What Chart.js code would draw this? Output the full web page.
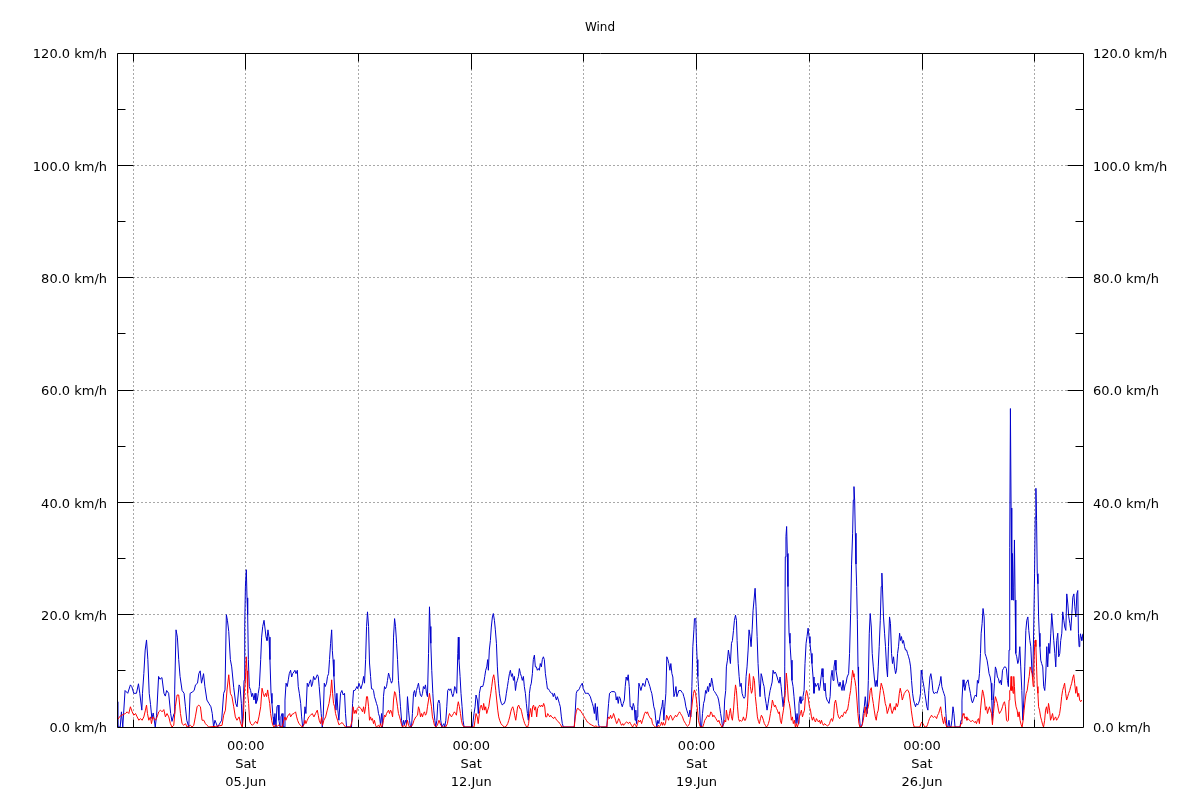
<!DOCTYPE html>
<html>
<head>
<meta charset="utf-8">
<script src="https://cdn.jsdelivr.net/npm/chart.js@4.4.1/dist/chart.umd.min.js"></script>
<style>
html,body{margin:0;padding:0;background:#ffffff;}
#wrap{width:1200px;height:800px;}
</style>
</head>
<body>
<div id="wrap"><canvas id="c" width="1200" height="800"></canvas></div>
<script>
// ---------- chart text ----------
const chartTitle = 'Wind';
const unitLabel = 'km/h';

// ---------- x axis: hours since 01.Jun 00:00 ----------
const xMinHour = 0;
const xMaxHour = 720;
const gridHours = [12, 96, 180, 264, 348, 432, 516, 600, 684];
const labelHours = [96, 264, 432, 600];
const labelTimes = ['00:00', '00:00', '00:00', '00:00'];
const labelWeekdays = ['Sat', 'Sat', 'Sat', 'Sat'];
const labelDates = ['05.Jun', '12.Jun', '19.Jun', '26.Jun'];

// ---------- y axis ----------
const yMin = 0;
const yMax = 120;
const yLabelStep = 20;
const yMinorStep = 10;

// ---------- series: [hour, km/h] readings ----------
const gustReadings = [
[0,4.5],[0.6,0],[2.4,0],[3.3,2.7],[4.3,0],[6,6.5],[8,6],[10,7.5],[11,7.2],[12.5,6],[14.5,6],[16,7.7],[17,6],[18.5,3],[19,6],[20,9.5],[21,13.7],[22,15.5],[23,12],[24,6],[25,4],[26,1.5],[27,2.5],[28.5,0],[29.5,2],[31,9],[32,8.5],[33.5,8.8],[35,6],[36,5.5],[37,6.5],[38.5,6],[40,2.4],[41,1],[42.5,2.4],[43,6.6],[44,17.3],[45,16],[46,12],[47,9],[48.5,6.5],[50,6],[51,3.6],[52,1.2],[53.5,0],[54.5,6],[56,6.2],[57.5,6.5],[58.5,7.5],[60,7.8],[61,9.5],[62,10],[63,7.8],[64.5,9.5],[65.5,7.2],[67,4.8],[68.5,4.2],[70,3.6],[71,2.4],[72,0],[73,1.2],[75,0],[78,1.2],[79.5,6],[80.5,6.6],[81.5,20],[82.3,19],[83.3,17],[84.5,12],[85.5,10.7],[87,7],[88.5,4.2],[89.5,3.6],
[91,7.5],[91.7,7.2],[92.7,4.2],[93.4,0],[94.2,4.8],[94.7,8.3],[95.2,17.9],[95.7,25],[96.4,28],[96.9,23],[97.4,20],[97.9,12],[98.6,7.2],[99.6,6.5],[100.4,5.4],[101.1,6],[102.1,4.8],[102.9,6],[103.6,4.2],[104.6,4.8],[105.3,6],[106.1,7.2],[107.1,12],[107.8,16],[108.6,17.9],[109.6,19],[110.3,19],[111.1,16],[111.8,15.4],[112.5,17.3],[113.3,16],[114,12],[114.8,6],[115.5,4.2],[116.3,1.8],[117,0.4],[117.7,2.4],[118.5,0],[119.2,3.6],[120,3.9],[120.7,1.2],[121.5,0],[122.2,1.8],[123,2.4],[123.7,0],[124.5,0],[125.2,4.8],[126,7.8],[126.9,7.2],[127.7,8.4],[128.4,9.5],[129.4,10.1],[130.2,8.9],[130.9,9.5],[131.9,9.8],[132.6,10.1],[133.4,9.5],[134.4,10.1],[135.1,7.2],[135.9,6],[136.9,4.2],[137.6,1.8],[138.4,0],[139.3,0.6],[140.1,3.6],[140.8,2.4],[141.8,7.8],[142.6,7.2],[143.3,7.8],[144.3,8.4],[145,7.2],[145.8,7.8],[146.5,9],[147.5,8.4],[148.3,8.7],[149.3,9.3],[150,9],[150.7,7.2],[151.5,4.8],[152.2,2.4],[153,0],[153.7,1.8],[154.5,7.8],[155.2,7.2],[156.2,7.8],[156.9,9],[157.7,9.5],[158.4,12],[159.2,14.9],[160,17.3],[160.5,13.6],[161,12],[161.7,9],[162.4,6],[163.2,3],[163.9,6],[164.6,3],[165.4,1.2],[166.6,6],[167.6,6.5],[168.6,5.7],[169.6,6],[170.3,2.4],[171.1,0],[174.8,0],[175.6,4.2],[176.3,6.5],[177.3,6.5],[178,6.8],[178.8,7.2],[179.5,6.8],[180.3,7.8],
[181.8,6.8],[183,7.8],[183.8,9],[184.5,7.8],[185.3,12],[186,17.9],[186.7,20.5],[187.5,17.9],[188.2,11.4],[189,9],[189.7,6.8],[190.4,6.8],[191.2,6.5],[191.9,5.4],[192.7,4.8],[193.4,4.2],[194.2,3.6],[194.9,2.4],[195.7,1.8],[196.4,0.4],[197.2,2.4],[197.9,0],[198.6,5.4],[199.4,7.2],[200.1,6.8],[200.9,7.2],[201.6,8.3],[202.4,9.6],[203.1,9],[203.9,8.3],[204.6,7.8],[205.4,8.3],[206.1,16],[206.9,19.3],[207.6,17.9],[208.4,14.9],[209.1,12],[209.8,8.3],[210.6,6],[211.3,3.6],[212.1,1.2],[212.8,0],[213.6,1.2],[214.3,0.4],[215.1,1.2],[215.8,0.6],[216.5,5.4],[217.3,3],[218,1.2],[218.8,0],[219.5,0],[220.2,2.4],[221,6],[221.8,6.5],[222.5,5.4],[223.2,6.5],[224,7.2],[224.7,7.8],[225.5,6.5],[226.2,5.6],[227,5.4],[227.7,6],[228.4,7.2],[229.2,6.8],[229.9,7.5],[230.7,6],[231.4,5.4],[232.2,13.1],[232.9,21.4],[233.4,17.9],[233.9,14.9],[234.6,10.1],[235.4,6],[236.1,3],[236.9,1.2],[237.6,0],[238.4,1.2],[239.1,4.2],[239.9,4.8],[240.6,4.2],[241.3,1.2],[242.1,0],[243.6,0.6],[244.3,0],[245.1,1.2],[245.8,3.6],[246.5,6.5],[247.3,6.8],[248,6.5],[248.8,6.8],[249.5,6],[250.3,5.4],[251,6],[251.7,7.2],[252.5,6.8],[253.2,6],[254,13.1],[254.4,16],[254.9,12],[255.7,9],[256.4,6],[257.2,3.6],[257.9,1.2],[258.7,0],[264.9,0],[266.1,2.4],[266.9,3.6],[267.6,5.7],[268.6,4.8],[269.3,2.4],[270.1,6],[271.1,7.2],
[272.6,7.2],[273.3,7.8],[274.1,9],[274.8,10.1],[275.6,10.7],[276.3,12],[276.8,10.1],[277.5,13.7],[278.3,15.4],[279,17.8],[279.8,19.6],[280.5,20.2],[281.3,19],[282,17.3],[282.8,14.9],[283.5,10.7],[284.3,7.8],[285,6],[285.8,4.8],[286.5,4.2],[287.3,3.9],[288,4.2],[288.7,4.2],[289.5,4.8],[290.2,6],[291,7.2],[291.7,8.3],[292.5,9.5],[293.2,10.1],[294,9],[294.7,9.5],[295.5,8.3],[296.2,9],[297,6.5],[297.7,7.8],[298.4,8.3],[299.2,9],[299.9,10.4],[300.7,9.5],[301.4,9],[302.1,8.3],[302.9,9],[303.6,7.2],[304.4,6],[305.1,4.2],[305.9,2.4],[306.6,1.2],[307.4,6],[308.1,7.2],[308.8,7.8],[309.6,9.5],[310.3,12],[311.1,12.8],[311.8,10.7],[312.6,10.7],[313.3,10.1],[314.1,10.4],[314.8,10.1],[315.5,11.3],[316.3,10.7],[317,12],[317.8,12.5],[318.5,12],[319.3,9.5],[320,8.3],[320.8,6.8],[321.5,6.8],[322.3,6.5],[323,6.2],[323.8,6],[324.5,6],[325.2,5.4],[326,6],[326.7,5.4],[327.5,4.8],[328.2,5.4],[329,4.8],[329.7,4.2],[330.4,3.6],[331.2,1.8],[331.9,0.6],[332.7,0],[340.8,0],[341.6,3],[342.3,6],[343.1,6.5],[343.8,6.5],[344.6,6.8],[345.3,7.2],[346,7.5],[346.8,7.8],[347.5,6.8],[348.3,6.5],[349,6],[349.8,6],[351.3,6],[352,5.7],[352.8,5.4],[353.5,4.8],[354.3,4.2],[355,3.6],[355.8,2.4],[356.5,4.2],[357.3,1.2],[358,3.6],[358.8,0.6],[359.5,0],
[365.1,0],[365.6,1.8],[366.4,4.2],[367.1,6],[368.6,6.3],[370.8,6.3],[371.6,6],[372.1,4.8],[372.8,5.4],[373.6,4.2],[374.3,5.4],[375.1,5.1],[375.8,4.2],[376.6,3.6],[377.3,4.2],[378.1,4.8],[378.8,7.2],[379.5,8.9],[380.3,8.3],[381,9.3],[381.8,7.2],[382.5,3.6],[383.3,3.6],[384,3],[384.8,4.2],[385.5,3.6],[386.2,1.2],[386.7,3],[387.2,0.6],[387.7,1.8],[388.2,3.6],[389,7.8],[389.7,7.2],[390.5,6.5],[391.2,7.2],[392,7.8],[392.7,7.5],[393.4,7.2],[394.2,8.3],[394.9,8.7],[395.7,8.3],[396.4,7.8],[397.2,7.2],[397.9,6.5],[398.6,6],[399.4,4.8],[400.1,3.6],[400.9,3],[401.6,1.2],[402.4,0],[403.1,1.2],[403.9,0.6],[404.6,1.8],[405.4,3],[406.1,3.6],[406.8,4.8],[407.6,1.2],[408.3,3.6],[409.1,6],[409.8,12.5],[410.6,12],[411.3,11.3],[412.1,10.1],[412.8,11.3],[413.6,9.5],[414.3,8.9],[415.1,5.4],[415.8,6],[416.6,7.2],[417.3,5.4],[418.1,6],[418.8,6.5],[420.3,6.5],[421,6.2],[421.8,6],[422.5,5.4],[423.2,4.8],[424,3.6],[424.7,3],[425.5,2.4],[426.2,1.8],[427,3],[427.7,1.8],[428.5,7.2],[429.2,14.3],[430,17.3],[430.4,19.3],[431.4,19.3],[431.9,14.9],[432.4,12],[432.9,9],[433.4,7.2],[434.2,3.6],[434.9,0],[435.7,0],[436.4,2.4],[437.2,4.2],[437.9,4.8],[438.7,6.5],[439.4,6],[440.2,7.2],[440.9,6.3],[441.7,7.8],[442.4,7.2],[443.2,8.7],[443.9,7.8],[444.7,6.5],[445.4,6.3],[446.2,6],[446.9,5.7],[447.7,5.4],[448.4,4.8],[449.2,3.6],[449.9,2.4],[450.7,1.2],[451.4,0],[452.2,0.6],[452.9,4.8],[453.7,6.5],
[454.2,10.7],[455,11.9],[455.7,13.7],[456.5,12.5],[457.2,11.3],[458,14.9],[458.7,15.4],[459.5,17.2],[460.2,19],[461,19.9],[461.7,19],[462.2,15.4],[463,11.3],[463.7,9],[464.4,7.2],[465.2,7.8],[465.9,6],[466.7,5.4],[467.4,5.1],[468.2,5.4],[468.9,9],[469.6,10.7],[470.4,13.7],[471.1,17.3],[471.9,16.1],[472.6,14.3],[473.4,17.3],[474.1,20.8],[474.8,22.6],[475.6,24.7],[476.3,21.4],[477.1,16.1],[477.8,11.3],[478.6,7.8],[479.3,5.4],[480.1,9.5],[480.8,8.9],[481.6,7.8],[482.3,7.2],[483,5.4],[483.8,4.2],[484.5,3],[485.3,4.2],[486,5.4],[486.8,6.5],[487.5,7.2],[488.3,8],[489,10.1],[489.8,9.5],[490.5,9.8],[491.2,9.5],[492,8.9],[492.7,8.3],[493.5,7.8],[494.2,8.9],[495,7.2],[495.7,5.4],[496.5,3.6],[497.2,5.4],[497.7,10.7],[498.1,30.3],[498.6,33.9],[499.1,35.7],[499.6,30.9],[500.1,25],[500.9,16.7],[501.6,14.9],[502.4,11.9],[503.1,8.3],[503.9,7.2],[504.6,5.4],[505.4,3],[506.1,0.6],[506.9,2.4],[507.6,0.6],[508.3,4.2],[509.1,5.4],[509.8,4.2],[510.6,4.8],[511.3,5.4],[512.1,6.5],[512.8,11.3],[513.6,14.9],[514.3,16.1],[515.1,17.6],[515.8,16.1],[516.5,14.9],[517.3,13.1],[518,11.3],[518.8,8.9],[519.5,6],[520.3,7.8],[521,7.2],[521.8,7.5],[522.5,7.8],[523.3,6.5],[524,7.2],[524.8,8.9],[525.5,10.4],[526.2,8.9],[527,6.5],[527.7,7.8],[528.5,5.4],[529.2,4.8],[530,4.5],[530.7,4.2],[531.5,5.4],[532.2,8.9],[533,10.1],[533.7,8.3],[534.4,10.7],[535.2,11.9],[535.9,10.1],[536.7,8.9],[537.4,7.8],[538.2,7.2],[538.9,8],[539.7,7.2],[540.4,6.5],[541.2,8.3],[541.9,6.5],[542.7,7.5],[543.4,7.8],[544.2,8.9],
[545.3,9.5],[546,13.1],[546.8,20.2],[547.5,29],[548.3,34.5],[548.8,40.4],[549.3,42.8],[549.8,40.4],[550.3,34.5],[550.8,29],[551.3,25],[551.8,19.1],[552.3,10.7],[552.7,7.2],[553.2,2.4],[554,0],[554.7,0],[555.5,0.6],[556.2,2.4],[557,3.6],[557.7,5.4],[558.5,3.6],[559.2,2.4],[560,8.3],[560.7,16.7],[561.4,20.2],[562.2,17.8],[562.9,13.1],[563.7,10.7],[564.4,8.9],[565.2,7.2],[565.9,8.3],[566.6,7.2],[567.4,10.7],[568.1,14.3],[568.9,19],[569.6,25],[570.1,27.4],[570.6,24.4],[571.3,19.6],[572.1,16.7],[572.8,14.3],[573.6,10.7],[574.3,8.9],[575,14.3],[575.8,19.6],[576.5,18.4],[577.3,13.1],[578,11.3],[578.8,12.5],[579.5,10.7],[580.3,9.5],[581,10.1],[581.8,13.1],[582.5,14.3],[583.3,16.7],[584,15.4],[584.7,16.1],[585.5,14.9],[586.2,15.4],[587,14.3],[587.7,13.7],[588.5,13.7],[589.2,13.1],[590,12.5],[590.7,11.9],[591.5,10.7],[592.2,8.3],[593,6],[593.7,4.8],[594.4,4.2],[595.2,3.6],[595.9,4.2],[596.7,3.9],[597.4,4.2],[598.2,4.8],[598.9,6],[599.4,10.1],[599.9,9.5],[600.6,8.3],[601.4,7.2],[602.1,6],[602.9,4.8],[603.6,3.6],[604.4,3],[605.1,6.5],[605.9,8.9],[606.6,9.5],[607.4,8.3],[608.1,6.5],[608.8,6],[609.6,6],[610.3,6.2],[611.1,6],[611.8,6.5],[612.6,7.2],[613.3,7.8],[614.1,9],[614.8,7.2],[615.6,6.5],[616.3,6],[617.1,5.4],[617.8,2.4],[618.6,0],[619.3,0],[620.1,1.2],[620.8,0],[621.6,0],[622.3,1.2],[623.1,3.6],[623.8,2.4],[624.6,0],[628.3,0],[629.1,1.2],[629.8,4.8],[630.6,8.4],[631.3,7.2],[632,6.5],[632.8,7.8],[633.5,7.8],[634.3,8.4],
[635.1,7.2],[636.1,6],[636.9,4.8],[637.6,4.3],[638.4,4.8],[639.1,5.4],[639.8,5.7],[640.6,5.4],[641.3,8.3],[642.1,7.8],[642.8,9.5],[643.6,13.1],[644.1,16.7],[644.8,18.4],[645.5,21.1],[646.3,19.6],[647,13.1],[647.8,12.5],[648.5,11.9],[649.3,10.7],[650,9.5],[650.8,8.9],[651.5,7.8],[652,4.8],[652.5,1.2],[653.2,4.8],[654,7.8],[654.7,10.7],[655.5,10.1],[656.2,8.9],[657,8.6],[657.7,7.8],[658.5,8.3],[659.2,7.5],[660,10.1],[660.7,10.4],[661.4,10.7],[662.2,10.7],[662.9,10.4],[663.7,8.3],[664.4,7.2],[664.9,13.7],[665.4,32],[665.9,56.7],[666.4,39],[666.9,22.6],[667.4,30.9],[667.9,22.6],[668.4,24.9],[668.9,33.3],[669.4,22.6],[669.9,13.1],[670.6,12.5],[671.4,11.3],[672.1,11.9],[672.9,14.3],[673.6,10.7],[674.4,6.5],[675.1,1.2],[675.9,4.8],[676.6,10.7],[677.4,17.2],[678.1,19],[678.9,19.6],[679.6,17.2],[680.4,15.4],[681.1,14.3],[681.9,10.1],[682.6,8.9],[683.4,19.6],[683.9,27.3],[684.4,37.4],[684.9,42.5],[685.4,36.8],[685.9,27.3],[686.4,25.5],[686.9,19.6],[687.4,16.7],[687.9,14.3],[688.5,11.9],[689.2,11.3],[690,10.7],[690.7,7.2],[691.5,6.5],[692.2,8.9],[693,14.3],[693.7,10.7],[694.5,14.9],[695.2,13.1],[696,16.7],[696.7,20.2],[697.5,17.8],[698.2,15.4],[699,13.1],[699.7,10.7],[700.4,15.4],[701.2,16.7],[701.9,12.5],[702.7,13.1],[703.4,15.4],[704.2,16.7],[704.9,20.5],[705.7,19],[706.4,17.8],[707.2,17.2],[707.9,23.7],[708.7,21.9],[709.4,19.6],[710.2,18.4],[710.9,17.2],[711.7,20.2],[712.4,23.1],[713.2,23.7],[713.9,21.4],[714.7,19.6],[715.4,23.7],[716.1,24.3],[716.6,16.6],[717.1,14.3],[717.6,15.4],[718.1,16.6],[718.6,16],[719.1,15.4],[719.9,16.6]
];

const avgReadings = [
[0,1.2],[2.6,2],[6.3,2.4],[7.6,2.7],[8.8,2.4],[10,3.6],[11.3,2.7],[12.5,2.1],[13.8,2.4],[15,1.8],[16.3,1.2],[17.5,1.5],[18.7,1.2],[20,1.8],[21.2,3],[22,3.9],[22.7,2.4],[23.7,1.2],[24.9,1.8],[25.7,0.6],[26.7,1.8],[28.7,1.2],[29.9,1.8],[31.1,2.7],[32.4,3],[33.6,2.7],[34.9,3.1],[36.1,1.8],[37.3,2.4],[38.6,1.8],[39.8,0.6],[41,0],[42.3,0.3],[43.5,3.6],[44.8,5.7],[46,5.7],[47.3,2.4],[48.5,0.6],[49.8,0.3],[51,0.6],[52.2,0],[54.7,0.3],[56,0],[57.2,0.3],[58.4,1.8],[59.7,3.6],[60.9,3.9],[62.2,3.6],[63.4,1.2],[64.7,1.2],[65.9,0.6],[67.1,0.3],[68.4,0],[73.3,0.1],[78.3,0.3],[79.5,2.1],[80.8,3],[82,6.6],[83.3,9.3],[84.5,6],[85.7,5.4],[87,3.6],[88.2,1.8],[89.4,1.2],
[91,1.8],[92.2,0.6],[93.4,0],[94.2,1.8],[94.9,6],[95.7,8.4],[96.4,12.5],[96.9,10],[97.4,6],[98.1,4.2],[98.8,1.2],[99.6,0.6],[100.9,0.3],[102.1,0.6],[103.3,1],[104.6,0.6],[105.8,1.8],[107.1,3.6],[108.1,6.9],[109,6],[109.8,5.4],[110.8,6],[111.5,5.4],[112.3,6.6],[113,5.4],[113.8,4.2],[114.5,2.4],[115.3,1.2],[116,0.4],[117,0],[118.2,0.4],[119.5,0.1],[120.7,0.4],[121.9,0.1],[123.2,0],[124.4,1.2],[125.2,1.8],[125.9,1.2],[126.9,1.8],[127.7,2.1],[128.7,2.4],[129.4,1.8],[130.7,2.3],[131.9,2.4],[133.1,2.7],[133.9,1.8],[134.6,1.2],[135.6,0.6],[136.9,0.3],[138.1,0],[139.3,0.4],[140.1,1.2],[140.8,0.6],[141.8,1.2],[143,1.8],[144.3,2.1],[145.5,2.4],[146.8,1.8],[148,2.4],[149.3,3],[150,2.1],[150.7,1.2],[151.7,0.6],[152.5,1.8],[153.2,0.3],[154.2,1.2],[155.5,1.8],[156.7,3],[158,4.2],[159.2,6],[160,8.4],[160.7,6],[161.4,4.2],[162.2,3.6],[162.9,2.4],[163.6,1.8],[164.4,1.2],[165.4,0.4],[166.6,0.6],[167.8,0.8],[169,0.4],[170.3,0],[174,0],[175.3,1.2],[176,3.6],[176.8,2.4],[177.6,3],[178.3,2.4],[179.1,3.3],[180.3,3.6],
[181.8,3.3],[183,2.7],[183.8,3.6],[184.5,2.4],[185.3,3.6],[186,5.4],[186.7,5.4],[187.5,3.6],[188.2,1.2],[189,1.8],[189.7,1.2],[190.4,1.5],[191.2,0.6],[191.9,1.2],[192.7,0.3],[193.4,0],[194.9,0.3],[195.7,0],[196.4,0.6],[197.2,0],[197.9,0.3],[198.6,1.2],[199.4,2.1],[200.1,1.8],[200.9,2.4],[201.6,2.7],[202.4,3],[203.1,2.4],[203.9,3],[204.6,2.7],[205.4,1.8],[206.1,4.8],[206.9,6.3],[207.6,6],[208.4,4.8],[209.1,3.6],[209.8,2.4],[210.6,1.8],[211.3,1.2],[212.1,0.4],[212.8,0],[214,0.3],[215.3,0],[216.5,1.2],[217.3,0.3],[218,0],[220.2,0.3],[221.4,1.2],[222.7,1.8],[224,2.1],[224.7,3.6],[225.5,3],[226.2,1.8],[227,2.4],[227.7,1.8],[228.4,2.4],[229.2,2.7],[229.9,2.1],[230.7,2.4],[231.4,3.6],[232.2,4.8],[232.9,6],[233.6,4.8],[234.4,3.6],[235.1,1.8],[235.8,1.2],[236.6,0.3],[237.6,0],[238.8,0.3],[240,1.2],[241.3,0.3],[242.6,0],[245,0],[246.3,0.6],[247.1,1.8],[247.8,2.4],[248.5,2.1],[249.3,1.8],[250,2.1],[250.8,2.4],[251.5,2.7],[252.3,2.4],[253,2.1],[253.7,3.6],[254.4,4.5],[255.2,3.6],[256,2.4],[256.7,1.2],[257.5,0.4],[258.7,0],[266.1,0],[266.9,1.2],[267.6,2.4],[268.5,1.8],[269.2,0.6],[270.1,2.4],[270.8,3.6],[271.5,3.9],
[272.6,3],[273.3,4.2],[274.1,3],[274.8,3.6],[275.6,2.4],[276.3,3],[277.1,3.6],[277.8,4.8],[278.6,6],[279.3,7.2],[280.1,8.7],[280.8,9.3],[281.5,8.3],[282.3,6.5],[283,4.8],[283.8,3],[284.5,1.8],[285.2,1.2],[286.2,0.6],[287.2,0.3],[288.7,0],[290,0.1],[291.2,0.6],[292,1.2],[292.7,1.8],[293.5,2.7],[294.2,3.3],[295,3.6],[295.7,3],[296.4,2.1],[297.2,1.2],[297.9,2.4],[298.6,3.6],[299.4,3.9],[300.2,3.3],[300.9,3.3],[301.6,2.7],[302.4,1.8],[303.1,1.2],[303.9,0.6],[304.6,0.3],[305.3,0],[306.1,0],[306.8,0.6],[307.6,2.4],[308.3,3.3],[309.1,1.8],[309.8,3.6],[310.5,3.9],[311.3,3],[312,3.6],[312.8,1.8],[313.5,3.3],[314.3,3.6],[315,3.9],[315.8,3.6],[316.5,3.9],[317.3,3.6],[318,4.2],[318.8,3.6],[319.5,1.8],[320.3,1.8],[321,2.4],[321.8,2.1],[322.5,1.8],[323.2,2.1],[324,1.8],[325.5,1.5],[326.2,1.8],[327,1.5],[327.7,1.2],[329.2,0.9],[330,0.6],[330.7,0.4],[331.4,0],[340.8,0],[341.6,1.8],[342.3,2.7],[343.1,3.3],[343.8,3.3],[344.6,3],[345.3,3],[346,2.7],[346.8,2.4],[347.5,2.1],[348.3,1.8],[349,1.5],[349.8,1.2],[350.5,0.9],[351.3,0.8],[352,0.6],[353.5,0.4],[355,0.2],[355.8,0.1],[357,0.2],[358.2,0],
[365.1,0],[365.6,1.2],[366.4,1.8],[367.1,1.5],[367.9,2.1],[368.6,1.5],[369.4,1.8],[370.1,2.4],[370.9,1.8],[371.6,1.2],[372.4,0.6],[373.1,0.9],[373.9,1.5],[374.6,1.2],[375.4,0.6],[376.1,0.3],[376.9,0.6],[377.6,0.3],[378.4,0.6],[379.9,0.9],[381.3,0.6],[382.1,0.9],[382.8,0.6],[383.5,0.3],[384.3,0],[385,0.3],[385.8,0.6],[386.5,0.3],[387.2,0],[388,0.6],[388.7,1.2],[389.5,0.9],[390.2,1.2],[391,0.6],[391.7,1.2],[392.5,1.8],[393.2,2.4],[394,2.7],[394.7,2.4],[395.4,2.7],[396.2,2.1],[397,1.8],[397.6,1.5],[398.4,1.5],[399.1,0.6],[399.9,0.3],[400.6,0.1],[401.4,0],[402.9,0],[403.6,0.3],[404.4,0.1],[405.1,0.3],[405.9,0.9],[406.6,0.3],[407.3,0.8],[408.1,0.3],[408.8,0.6],[409.6,2.1],[410.3,1.8],[411.1,1.2],[411.8,1.8],[412.6,2.1],[413.3,1.8],[414.1,1.2],[414.8,1.5],[415.6,1.8],[416.3,2.1],[417.1,1.8],[417.8,2.1],[418.5,2.4],[419.3,2.7],[420,2.4],[420.8,2.1],[421.5,1.8],[422.3,1.2],[423,0.9],[423.8,0.6],[424.5,0.3],[425.2,0.1],[426,0.3],[426.7,0.6],[427.5,1.8],[428.2,3],[429,4.8],[429.7,6],[430.4,6.6],[431.2,6],[431.9,4.8],[432.7,3],[433.4,1.2],[434.2,0.4],[434.9,0],[436.6,0],[437.4,0.6],[438.1,1.2],[438.9,1.5],[439.6,1.8],[440.4,2.1],[441.2,1.8],[441.9,2.1],[442.6,2.7],[443.4,2.4],[444.1,1.8],[444.9,2.1],[445.6,1.8],[446.4,1.5],[447.1,1.2],[447.9,0.9],[448.6,1.2],[449.4,0.6],[450.1,0.3],[450.9,0],[452.2,0.6],[452.9,1.2],[453.7,0.9],
[454.2,3],[455,1.8],[455.7,1.2],[456.5,2.4],[457.2,3.3],[458,1.8],[458.7,1.2],[459.5,3],[460.2,5.4],[461,7.5],[461.7,6.5],[462.5,3.6],[463.2,1.5],[464,1],[464.7,1.2],[465.4,1],[466.2,1.2],[466.9,1.8],[467.7,1.2],[468.4,1.2],[469.1,1.8],[469.9,3.6],[470.6,7.2],[471.4,9.5],[472.1,7.2],[472.9,6],[473.6,6.5],[474.3,9],[475.1,8.3],[475.8,5.4],[476.6,3.6],[477.3,1.8],[478.1,1],[478.8,0.6],[479.6,1.5],[480.3,2.1],[481,1.8],[481.8,1.2],[482.5,0.6],[483.3,0.3],[484,0],[484.8,0.2],[485.5,0.6],[486.2,1.2],[487,2.4],[487.7,3.3],[488.5,4.8],[489.2,4.2],[490,3.6],[490.7,3.9],[491.5,3.3],[492.2,3],[493,2.4],[493.7,2.7],[494.4,1.2],[495.2,0.6],[495.9,1.8],[496.7,3],[497.4,4.2],[498.2,6.5],[498.9,9.6],[499.6,7.8],[500.4,4.8],[501.1,4.2],[501.9,3],[502.6,1.2],[503.4,1.8],[504.1,0.6],[504.9,1.2],[505.6,0],[506.4,0.6],[507.1,0],[507.9,0.6],[508.6,1.8],[509.4,2.4],[510.1,3],[510.9,1.8],[511.6,2.4],[512.4,3],[513.1,5.4],[513.9,6.5],[514.6,6],[515.4,4.8],[516.1,3.6],[516.9,3],[517.6,1.8],[518.3,1.2],[519.1,1.8],[519.8,1.2],[520.6,0.9],[521.3,1.5],[522.1,1.2],[522.8,0.9],[523.6,1.2],[524.3,0.6],[525.1,1.2],[525.8,0.6],[526.6,0.3],[527.3,0.6],[528.8,0.3],[529.6,0.2],[530.3,0.3],[531.1,0.6],[531.8,1.2],[532.6,1.5],[533.3,1],[534.1,1.8],[534.8,4.2],[535.6,4.8],[536.3,3.9],[537.1,2.4],[537.8,1.8],[538.6,1.5],[539.3,1.8],[540.1,2.1],[540.8,1.8],[541.6,2.4],[542.3,2.7],[543.1,2.4],[543.8,3],
[544.5,3],[545.3,4.2],[546,5.4],[546.8,6.5],[547.5,8.3],[548.3,10.1],[548.8,9.5],[549.3,8.9],[550,8.3],[550.7,7.2],[551.5,4.8],[552.2,2.4],[553,0.6],[553.7,0],[554.7,0],[555.5,0.4],[556.2,1.2],[557,2.4],[557.7,3.6],[558.5,1.8],[559.2,3],[560,3.6],[560.7,4.8],[561.4,6.5],[562.2,7],[562.9,5.4],[563.7,4.2],[564.4,3],[565.2,1.8],[565.9,1.2],[566.6,2.4],[567.4,3],[568.1,4.8],[568.9,6.5],[569.6,7.8],[570.4,7.2],[571.1,6.5],[571.9,5.4],[572.6,4.2],[573.4,3.6],[574.1,2.4],[574.9,3],[575.6,3.6],[576.3,4.2],[577.1,3],[577.8,2.4],[578.6,3],[579.3,3.6],[580.1,3],[580.8,4.2],[581.6,3.6],[582.3,4.2],[583.1,6],[583.8,6.9],[584.6,6],[585.3,4.8],[586.1,5.4],[586.8,6],[587.5,6.2],[588.3,6.5],[589,6.6],[589.7,6.5],[590.5,6],[591.2,4.8],[592,3],[592.7,1.8],[593.5,0.6],[594.2,0],[598.4,0],[599.2,0.6],[599.9,0.9],[600.7,0.6],[601.4,0.3],[602.2,0],[603.3,0],[604.1,0.4],[604.9,1],[605.6,1.5],[606.4,1.8],[607.1,2.1],[607.9,1.8],[608.6,1.7],[609.4,1.9],[610.1,1.8],[610.9,1.5],[611.6,2.1],[612.4,2.4],[613.1,3],[613.9,3.6],[614.6,2.4],[615.4,1.2],[616.1,0.6],[616.9,1.8],[617.6,0.6],[618.4,0],[628.3,0],[629.1,0.6],[629.8,1.5],[630.6,2.4],[631.3,2.1],[632,1.5],[632.8,1.8],[633.5,1.2],[634.3,1.5],
[635.4,1.2],[636.1,1],[636.9,1],[637.6,1.2],[638.4,1],[639.1,0.8],[639.8,1],[640.6,0.6],[641.3,1.2],[642.1,1.5],[642.8,0.6],[643.6,3],[644.3,4.8],[645.1,6.6],[645.8,6],[646.6,4.8],[647.3,3],[648.1,3.6],[648.8,2.4],[649.5,3],[650.3,3.6],[651,3],[651.8,2.4],[652.5,0.4],[653.2,2.4],[654,4.2],[654.7,5.4],[655.5,4.8],[656.2,4.2],[657,3],[657.7,2.4],[658.5,2.7],[659.2,3],[660,3.6],[660.7,4.2],[661.5,4.5],[662.2,3.6],[663,1.2],[663.7,1],[664.4,1.2],[664.9,4.8],[665.4,6.5],[665.9,6.5],[666.4,9],[666.9,6.5],[667.4,7.2],[667.9,6],[668.4,9],[668.9,7.2],[669.4,4.8],[670.1,3.6],[670.9,3],[671.6,1.8],[672.4,2.7],[673.1,1.2],[673.9,0.4],[674.6,0],[675.4,1.2],[676.1,3],[676.9,4.8],[677.6,6],[678.4,6.5],[679.1,7.8],[679.9,9],[680.6,10.7],[681.4,10.1],[682.1,9.5],[682.9,7.2],[683.4,10.7],[683.9,14.3],[684.4,15.5],[684.9,14.3],[685.4,10.7],[685.9,7.2],[686.4,6],[686.9,3.6],[687.6,3],[688.4,1.8],[689.1,1.2],[689.9,0.4],[690.6,0],[691.4,1.2],[692.1,3],[692.8,3.6],[693.6,2.4],[694.3,4.2],[695.1,3],[695.8,1.2],[696.6,1.8],[697.3,2.4],[698.1,1.2],[698.8,1.5],[699.6,1.8],[700.3,1.2],[701.1,1.5],[701.8,1.8],[702.6,2.4],[703.3,3.6],[704.1,5.4],[704.8,6.5],[705.6,7.2],[706.3,7.8],[707.1,6],[707.8,4.8],[708.6,5.4],[709.3,6],[710.1,6.5],[710.8,7.2],[711.6,7.8],[712.3,8.7],[713.1,9.3],[713.8,7.8],[714.6,6],[715.3,7.2],[716.1,5.4],[716.8,6],[717.5,4.8],[718.3,4.5],[719,4.8]
];

// ---------- styles ----------
const FONT = 'DejaVu Sans';
const gustColor = '#0000cc';
const avgColor = '#ff0000';
const gridColor = '#a8a8a8';

function toPoints(readings) {
  return readings.map(r => ({x: r[0], y: r[1]}));
}

function align(p) { return Math.round(p - 0.5) + 0.5; }

const frameAndTicks = {
  id: 'frameAndTicks',
  afterDatasetsDraw(chart) {
    const ctx = chart.ctx;
    const a = chart.chartArea;
    const xs = chart.scales.x;
    const ys = chart.scales.y;
    const L = align(a.left), R = align(a.right), T = align(a.top), B = align(a.bottom);
    ctx.save();
    ctx.strokeStyle = '#000';
    ctx.lineWidth = 1;
    ctx.setLineDash([]);
    ctx.beginPath();
    ctx.rect(L, T, R - L, B - T);
    for (let v = yMin + yMinorStep; v < yMax; v += yMinorStep) {
      const py = align(ys.getPixelForValue(v));
      const len = (v % yLabelStep === 0) ? 16 : 8;
      ctx.moveTo(L, py); ctx.lineTo(L + len, py);
      ctx.moveTo(R, py); ctx.lineTo(R - len, py);
    }
    for (const h of gridHours) {
      const px = align(xs.getPixelForValue(h));
      const len = labelHours.includes(h) ? 16 : 8;
      ctx.moveTo(px, B); ctx.lineTo(px, B - len);
      ctx.moveTo(px, T); ctx.lineTo(px, T + len);
    }
    ctx.stroke();
    ctx.restore();
  }
};

const yTickFont = {family: FONT, size: 13};

new Chart(document.getElementById('c'), {
  type: 'line',
  data: {
    datasets: [
      {label: 'Average', data: toPoints(avgReadings), borderColor: avgColor, borderWidth: 1, pointRadius: 0, tension: 0, fill: false},
      {label: 'Gust', data: toPoints(gustReadings), borderColor: gustColor, borderWidth: 1, pointRadius: 0, tension: 0, fill: false}
    ]
  },
  options: {
    responsive: false,
    animation: false,
    devicePixelRatio: 1,
    layout: {padding: 0},
    plugins: {
      legend: {display: false},
      tooltip: {enabled: false},
      title: {
        display: true,
        text: chartTitle,
        color: '#000',
        font: {family: FONT, size: 12, weight: 'normal', lineHeight: '15px'},
        padding: {top: 20, bottom: 18}
      }
    },
    scales: {
      x: {
        type: 'linear',
        position: 'bottom',
        min: xMinHour,
        max: xMaxHour,
        afterFit(s) { s.height = 73; },
        afterBuildTicks(s) { s.ticks = gridHours.map(v => ({value: v})); },
        ticks: {
          autoSkip: false,
          maxRotation: 0,
          padding: 11,
          color: '#000',
          font: {family: FONT, size: 13, lineHeight: '18px'},
          callback(value) {
            const i = labelHours.indexOf(value);
            return i >= 0 ? [labelTimes[i], labelWeekdays[i], labelDates[i]] : '';
          }
        },
        grid: {color: gridColor, lineWidth: 1, drawTicks: false},
        border: {display: false, dash: [2, 2]}
      },
      y: {
        type: 'linear',
        position: 'left',
        min: yMin,
        max: yMax,
        afterFit(s) { s.width = 117; },
        ticks: {
          stepSize: yLabelStep,
          padding: 10,
          labelOffset: 2,
          color: '#000',
          font: yTickFont,
          callback(v) { return v.toFixed(1) + ' ' + unitLabel; }
        },
        grid: {color: gridColor, lineWidth: 1, drawTicks: false},
        border: {display: false, dash: [2, 2]}
      },
      y2: {
        type: 'linear',
        position: 'right',
        min: yMin,
        max: yMax,
        afterFit(s) { s.width = 117; },
        ticks: {
          stepSize: yLabelStep,
          padding: 10,
          labelOffset: 2,
          color: '#000',
          font: yTickFont,
          callback(v) { return v.toFixed(1) + ' ' + unitLabel; }
        },
        grid: {display: false, drawTicks: false},
        border: {display: false}
      }
    }
  },
  plugins: [frameAndTicks]
});
</script>
</body>
</html>
